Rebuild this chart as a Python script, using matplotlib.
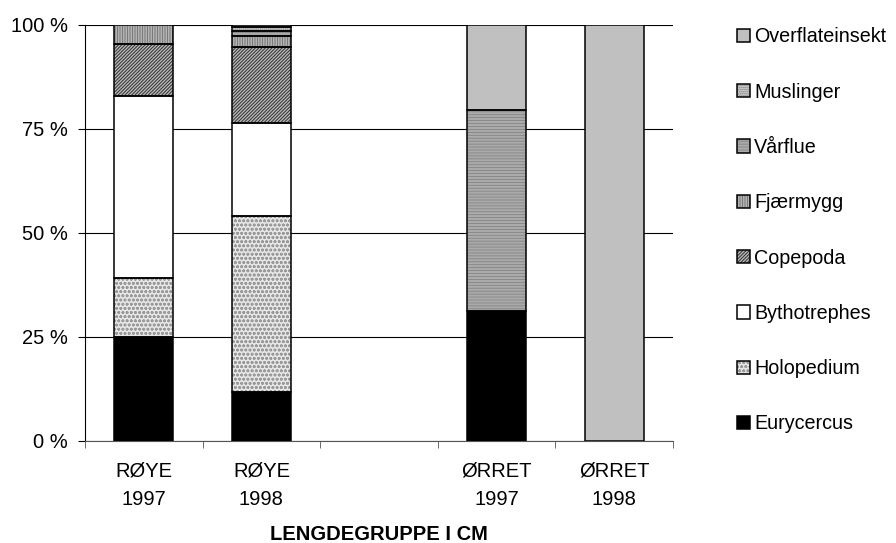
import matplotlib
matplotlib.use("Agg")
import matplotlib.pyplot as plt
from matplotlib.patches import Patch
from matplotlib.legend_handler import HandlerTuple
import numpy as np

plt.rcParams['font.family'] = ['Liberation Sans', 'DejaVu Sans']
plt.rcParams['hatch.linewidth'] = 0.8

categories = ["RØYE\n1997", "RØYE\n1998", "", "ØRRET\n1997", "ØRRET\n1998"]
series_names = ["Eurycercus", "Holopedium", "Bythotrephes", "Copepoda",
                "Fjærmygg", "Vårflue", "Muslinger", "Overflateinsekt"]
# percent values per series for each category (empty slot = 0)
eurycercus      = [25.0, 11.8, 0, 31.2, 0]
holopedium      = [14.0, 42.2, 0, 0, 0]
bythotrephes    = [43.8, 22.3, 0, 0, 0]
copepoda        = [12.6, 18.4, 0, 0, 0]
fjaermygg       = [4.6, 2.6, 0, 0, 0]
vaarflue        = [0, 1.2, 0, 48.3, 0]
muslinger       = [0, 1.0, 0, 0, 0]
overflateinsekt = [0, 0.5, 0, 20.5, 100.0]
yticks = [0, 25, 50, 75, 100]
ytick_labels = ["0 %", "25 %", "50 %", "75 %", "100 %"]

series_values = [eurycercus, holopedium, bythotrephes, copepoda,
                 fjaermygg, vaarflue, muslinger, overflateinsekt]
styles = [
    dict(facecolor="black", hatch=None, hcolor="black"),
    dict(facecolor="#e6e6e6", hatch="oooo", hcolor="#9a9a9a"),
    dict(facecolor="white", hatch=None, hcolor="black"),
    dict(facecolor="#bdbdbd", hatch="//////////", hcolor="#3a3a3a"),
    dict(facecolor="#e0e0e0", hatch="||||||||||", hcolor="#7a7a7a"),
    dict(facecolor="#dcdcdc", hatch="-----------", hcolor="#8a8a8a"),
    dict(facecolor="#cfcfcf", hatch="........", hcolor="#808080"),
    dict(facecolor="#c0c0c0", hatch=None, hcolor="black"),
]

FS = 14.5
fig = plt.figure(figsize=(8.96, 5.43), dpi=100)
ax = fig.add_axes([0.0949, 0.1884, 0.6562, 0.7661])

x = np.arange(len(categories))
width = 0.5
bottom = np.zeros(len(categories))
for name, vals, st in zip(series_names, series_values, styles):
    vals = np.array(vals, dtype=float)
    mask = vals > 0
    ax.bar(x[mask], vals[mask], width, bottom=bottom[mask],
           facecolor=st["facecolor"], edgecolor=st["hcolor"],
           hatch=st["hatch"], linewidth=0, zorder=3)
    ax.bar(x[mask], vals[mask], width, bottom=bottom[mask],
           fill=False, edgecolor="black", linewidth=1.1, zorder=4)
    bottom += vals

ax.set_xlim(-0.5, len(categories) - 0.5)
ax.set_ylim(0, 100)
ax.set_yticks(yticks)
ax.set_yticklabels(ytick_labels, fontsize=FS)
ax.yaxis.grid(True, color="black", linewidth=0.8, zorder=0)
ax.set_axisbelow(True)
ax.set_xticks(x)
ax.set_xticklabels(categories, fontsize=FS, linespacing=1.6)
ax.set_xticks(np.arange(len(categories) + 1) - 0.5, minor=True)
ax.tick_params(axis="x", which="major", length=0, pad=15)
ax.tick_params(axis="x", which="minor", length=5, color="#555555", direction="out")
ax.tick_params(axis="y", length=4.8, direction="out", pad=7.5)
for s in ["top", "right"]:
    ax.spines[s].set_visible(False)
ax.spines["left"].set_color("black")
ax.spines["bottom"].set_color("#555555")
ax.set_xlabel("LENGDEGRUPPE I CM", fontsize=FS, fontweight="bold", labelpad=12)

handles = []
for st in styles:
    h1 = Patch(facecolor=st["facecolor"], edgecolor=st["hcolor"], hatch=st["hatch"],
               linewidth=0)
    h2 = Patch(fill=False, edgecolor="black", linewidth=1.1)
    handles.append((h1, h2))
handles = handles[::-1]
labels = series_names[::-1]
fig.legend(handles, labels, loc="upper left", bbox_to_anchor=(0.814, 0.964),
           frameon=False, fontsize=14.2, handlelength=0.66, handleheight=0.66,
           handletextpad=0.2, labelspacing=1.84, borderaxespad=0,
           handler_map={tuple: HandlerTuple(ndivide=1, pad=0)})

fig.savefig("out.png", dpi=100)
